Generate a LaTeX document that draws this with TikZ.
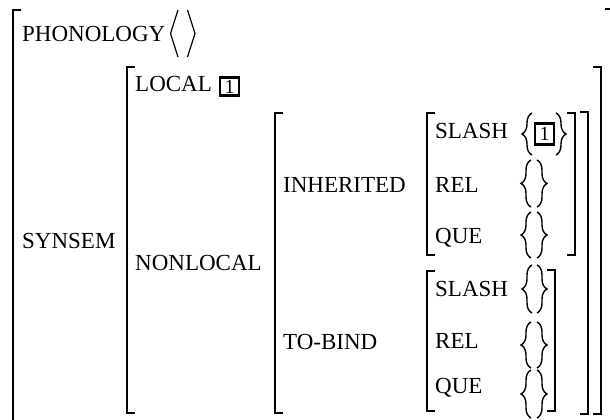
\documentclass[tikz,border=0pt]{standalone}
\usepackage{fontspec}
\setmainfont{Liberation Serif}
\usetikzlibrary{decorations.pathreplacing}

\begin{document}
\begin{tikzpicture}[x=1pt,y=-1pt,
  lbl/.style={anchor=base west, inner sep=0pt, font=\fontsize{23}{27}\selectfont},
  brk/.style={line width=1.6pt},
  angl/.style={line width=1.2pt, line join=miter},
  tagbox/.style={draw, line width=2.3pt, inner sep=0pt, minimum width=19pt,
                 minimum height=18pt, font=\fontsize{20}{22}\selectfont},
  brc/.style={decorate, decoration={brace, amplitude=10pt}, line width=1.4pt},
]
\useasboundingbox (0,0) rectangle (610,420);
\clip (0,0) rectangle (610,420);

% ---------- brackets ----------
% outermost matrix
\draw[brk] (21,10) -| (13,440) -- (21,440);
\draw[brk] (605,9) -| (613,440) -- (605,440);
% SYNSEM value
\draw[brk] (135,67) -| (127,413) -- (135,413);
\draw[brk] (593,67) -| (601,414) -- (593,414);
% NONLOCAL value
\draw[brk] (283,113) -| (275,413) -- (283,413);
\draw[brk] (580,112) -| (588,414) -- (580,414);
% INHERITED value
\draw[brk] (435,113) -| (427,255) -- (435,255);
\draw[brk] (567,113) -| (575,255) -- (567,255);
% TO-BIND value
\draw[brk] (435,271) -| (427,411) -- (435,411);
\draw[brk] (547,270) -| (555,411) -- (547,411);

% ---------- feature names ----------
\node[lbl] (phon) at (22,42) {PHONOLOGY};
\node[lbl] (synsem) at (22,248) {SYNSEM};
\node[lbl] (local) at (135,92) {LOCAL};
\node[lbl] (nonlocal) at (135,270) {NONLOCAL};
\node[lbl] (inher) at (283,192) {INHERITED};
\node[lbl] (tobind) at (283,349) {TO-BIND};
\node[lbl] (islash) at (435,138) {SLASH};
\node[lbl] (irel) at (435,192) {REL};
\node[lbl] (ique) at (435,243) {QUE};
\node[lbl] (tslash) at (435,296) {SLASH};
\node[lbl] (trel) at (435,348) {REL};
\node[lbl] (tque) at (435,393) {QUE};

% ---------- empty list < > ----------
\draw[angl] (178,10) -- (170.5,33.5) -- (178,57);
\draw[angl] (187.5,10) -- (195,33.5) -- (187.5,57);

% ---------- structure-sharing tags ----------
\node[tagbox] (tagA) at (229.5,86.5) {1};
\node[tagbox, minimum height=21pt] (tagB) at (544.5,134) {1};

% ---------- set braces ----------
% INHERITED SLASH { [1] }
\draw[brc] (532,155) -- (532,113);
\draw[brc] (556,113) -- (556,155);
% INHERITED REL { }
\draw[brc] (531,207) -- (531,160);
\draw[brc] (537,160) -- (537,207);
% INHERITED QUE { }
\draw[brc] (531,258) -- (531,212);
\draw[brc] (537,212) -- (537,258);
% TO-BIND SLASH { }
\draw[brc] (532,313) -- (532,265);
\draw[brc] (537,265) -- (537,313);
% TO-BIND REL { }
\draw[brc] (531,368) -- (531,322);
\draw[brc] (537,322) -- (537,368);
% TO-BIND QUE { }
\draw[brc] (531,418) -- (531,370);
\draw[brc] (537,370) -- (537,418);
\end{tikzpicture}
\end{document}
